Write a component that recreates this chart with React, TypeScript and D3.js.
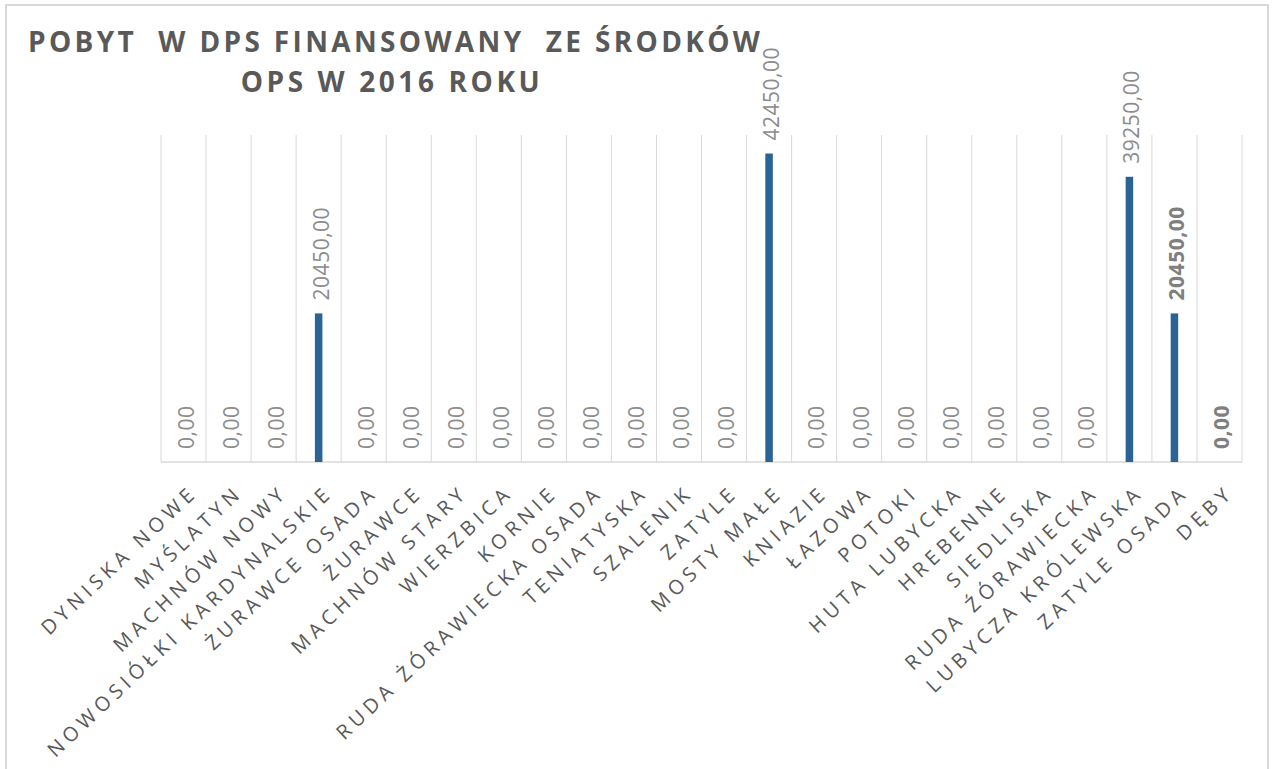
import React from "react";
import * as d3 from "d3";

const categories: string[] = [
  "DYNISKA NOWE",
  "MYŚLATYN",
  "MACHNÓW NOWY",
  "NOWOSIÓŁKI KARDYNALSKIE",
  "ŻURAWCE OSADA",
  "ŻURAWCE",
  "MACHNÓW STARY",
  "WIERZBICA",
  "KORNIE",
  "RUDA ŻÓRAWIECKA OSADA",
  "TENIATYSKA",
  "SZALENIK",
  "ZATYLE",
  "MOSTY MAŁE",
  "KNIAZIE",
  "ŁAZOWA",
  "POTOKI",
  "HUTA LUBYCKA",
  "HREBENNE",
  "SIEDLISKA",
  "RUDA ŹÓRAWIECKA",
  "LUBYCZA KRÓLEWSKA",
  "ZATYLE OSADA",
  "DĘBY",
];

const values: number[] = [
  0, 0, 0, 20450, 0, 0, 0, 0, 0, 0, 0, 0, 0, 42450, 0, 0, 0, 0, 0, 0, 0, 39250,
  20450, 0,
];

const boldLabels: string[] = ["ZATYLE OSADA", "DĘBY"];

const titleLines: string[] = [
  "POBYT  W DPS FINANSOWANY  ZE ŚRODKÓW",
  "OPS W 2016 ROKU",
];

const yMax = 45000;

const W = 1273;
const H = 769;
const plot = { left: 161, right: 1242, top: 135, bottom: 462 };

const fmt = (v: number) => v.toFixed(2).replace(".", ",");

export default function App() {
  const x = d3
    .scaleBand<string>()
    .domain(categories)
    .range([plot.left, plot.right])
    .paddingInner(0)
    .paddingOuter(0);
  const y = d3.scaleLinear().domain([0, yMax]).range([plot.bottom, plot.top]);
  const bw = x.bandwidth();
  const barW = 7.5;

  const font = "'Open Sans', 'DejaVu Sans', sans-serif";
  const boundaries = categories.map((c) => x(c) as number).concat([plot.right]);

  const angle = 43.5;
  const lblFs = 20;
  const lblLs = 4.9;
  const cosA = Math.cos((angle * Math.PI) / 180);
  const sinA = Math.sin((angle * Math.PI) / 180);

  return (
    <div style={{ position: "absolute", left: 0, top: 0 }}>
      <svg width={W} height={H} style={{ display: "block" }}>
        <rect x={0} y={0} width={W} height={H} fill="#ffffff" />
        <rect
          x={6}
          y={5}
          width={1262}
          height={820}
          fill="#ffffff"
          stroke="#d9d9d9"
          strokeWidth={2}
        />
        {/* title */}
        <g fontFamily={font} fontWeight={700} fill="#595959" fontSize={28}>
          <text
            x={28}
            y={52}
            letterSpacing={3.35}
            style={{ whiteSpace: "pre" }}
          >
            {titleLines[0]}
          </text>
          <text
            x={392}
            y={92}
            textAnchor="middle"
            letterSpacing={3.6}
            style={{ whiteSpace: "pre" }}
          >
            {titleLines[1]}
          </text>
        </g>
        {/* vertical gridlines */}
        <g stroke="#d9d9d9" strokeWidth={1}>
          {boundaries.map((bx, i) => (
            <line key={i} x1={bx} x2={bx} y1={plot.top} y2={plot.bottom} />
          ))}
        </g>
        {/* baseline */}
        <line
          x1={plot.left}
          x2={plot.right}
          y1={plot.bottom}
          y2={plot.bottom}
          stroke="#d9d9d9"
          strokeWidth={1.5}
        />
        {/* bars */}
        <g fill="#2c6396">
          {categories.map((c, i) =>
            values[i] > 0 ? (
              <rect
                key={c}
                x={(x(c) as number) + bw / 2 - barW / 2}
                y={y(values[i])}
                width={barW}
                height={y(0) - y(values[i])}
              />
            ) : null
          )}
        </g>
        {/* data labels */}
        <g fontFamily={font} fontSize={21}>
          {categories.map((c, i) => {
            const cx = (x(c) as number) + bw / 2;
            const bold = boldLabels.includes(c);
            return (
              <text
                key={c}
                transform={`translate(${cx + 10},${y(values[i]) - 13}) rotate(-90)`}
                fill={bold ? "#7f7f7f" : "#8c8c8c"}
                fontWeight={bold ? 700 : 400}
                letterSpacing={0.5}
              >
                {fmt(values[i])}
              </text>
            );
          })}
        </g>
        {/* category labels */}
        <g fontFamily={font} fontSize={lblFs} fill="#595959">
          {categories.map((c) => {
            const cx = (x(c) as number) + bw / 2;
            const h = lblFs * 0.714;
            const px = cx + 2 + h * sinA + lblLs * cosA;
            const py = 487 + h * cosA - lblLs * sinA;
            return (
              <text
                key={c}
                transform={`translate(${px},${py}) rotate(${-angle})`}
                textAnchor="end"
                letterSpacing={lblLs}
              >
                {c}
              </text>
            );
          })}
        </g>
      </svg>
    </div>
  );
}
